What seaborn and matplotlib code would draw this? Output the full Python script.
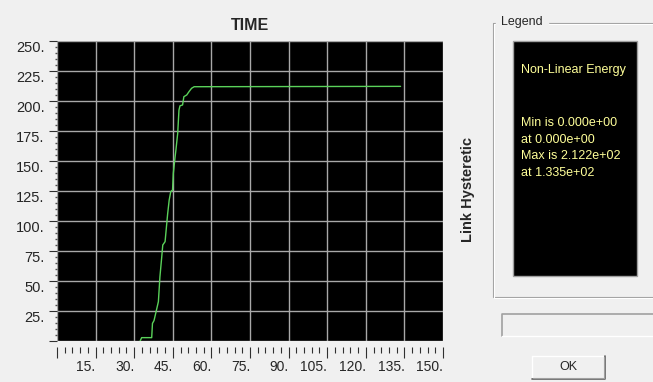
import numpy as np
import pandas as pd
import matplotlib
matplotlib.use("Agg")
import matplotlib.pyplot as plt
from matplotlib.patches import Rectangle
from matplotlib.ticker import MultipleLocator, FuncFormatter
import seaborn as sns

# non-linear energy history of the link
time = [0.0, 32.3, 32.9, 36.8, 37.1, 37.7, 38.5, 39.4, 40.0, 40.7, 41.1, 42.0,
        42.6, 43.0, 43.6, 44.2, 44.9, 45.2, 45.9, 46.2, 46.9, 47.4, 47.8, 48.8,
        49.3, 50.4, 51.3, 52.3, 53.3, 133.5]
energy = [0.0, 0.0, 2.8, 2.8, 14.7, 17.0, 24.4, 32.8, 53.6, 70.0, 80.0, 82.8,
          96.7, 106.0, 117.5, 124.4, 125.8, 139.7, 153.6, 159.0, 173.0, 192.5,
          196.0, 196.7, 203.6, 205.0, 207.8, 210.6, 211.9, 212.2]

title = "TIME"
y_title = "Link Hysteretic"
series_name = "Non-Linear Energy"

BG = "#f0f0f0"
LINE = "#5ad25a"
TXT = "#ffff99"

df = pd.DataFrame({"time": time, "energy": energy})
e = df["energy"].to_numpy()
t = df["time"].to_numpy()
i_min, i_max = int(np.argmin(e)), int(np.argmax(e))
# the zero part lies on the bottom edge and is not visible
start = int(np.flatnonzero(e > 0)[0]) - 1
shown = df.iloc[start:]

sns.set_style("dark", {"axes.facecolor": "black", "figure.facecolor": BG})
plt.rcParams["font.family"] = ["Liberation Sans", "DejaVu Sans"]

W, H = 653, 382
fig = plt.figure(figsize=(W / 100, H / 100), dpi=100)
fig.patch.set_facecolor(BG)

ax = fig.add_axes([57 / W, 1 - 341 / H, (443 - 57) / W, (341 - 41) / H])
ax.set_facecolor("black")
sns.lineplot(data=shown, x="time", y="energy", ax=ax, color=LINE,
             linewidth=1.0, estimator=None, sort=False, zorder=3)
ax.set_xlim(0, 150)
ax.set_ylim(0, 250)
ax.set_xlabel("")
ax.set_ylabel("")
ax.set_title(title, fontsize=11.5, fontweight="bold", pad=8)

ax.xaxis.set_major_locator(MultipleLocator(15))
ax.xaxis.set_minor_locator(MultipleLocator(3))
ax.yaxis.set_major_locator(MultipleLocator(25))
ax.yaxis.set_minor_locator(MultipleLocator(5))
fmt = FuncFormatter(lambda v, p: "" if v == 0 else f"{v:.0f}.")
ax.xaxis.set_major_formatter(fmt)
ax.yaxis.set_major_formatter(fmt)

ax.grid(True, which="major", color="#a8a8a8", linewidth=1.0)
for s in ax.spines.values():
    s.set_visible(False)
ax.spines["bottom"].set_position(("outward", 4.5))

ax.tick_params(axis="x", which="major", direction="out", length=8, width=0.8,
               color="#303030", pad=1, labelsize=10, bottom=True)
ax.tick_params(axis="x", which="minor", direction="out", length=4.5, width=0.8,
               color="#303030", bottom=True)
ax.tick_params(axis="y", which="major", direction="out", length=6, width=0.8,
               color="#303030", pad=3, labelsize=10.5, left=True)
ax.tick_params(axis="y", which="minor", direction="out", length=1.8, width=1.0,
               color="#505050", left=True)
for lab in ax.get_xticklabels():
    lab.set_horizontalalignment("right")
for lab in ax.get_yticklabels():
    lab.set_verticalalignment("top")
# the time ruler has no mark at zero
ax.xaxis.get_major_ticks()[0].tick1line.set_visible(False)

# dialog decorations in pixel coordinates
ui = fig.add_axes([0, 0, 1, 1], zorder=-1)
ui.set_xlim(0, W)
ui.set_ylim(H, 0)
ui.axis("off")

ui.text(468, 190, y_title, rotation=90, ha="center", va="center",
        fontsize=10.5, fontweight="bold")

# group box
ui.add_patch(Rectangle((493, 22.5), 170, 274, fill=False, edgecolor="#a0a0a0", lw=0.8))
ui.add_patch(Rectangle((494, 23.5), 170, 274, fill=False, edgecolor="white", lw=0.8))
ui.text(501, 22, "Legend", ha="left", va="center", fontsize=9,
        backgroundcolor=BG)

# legend panel
ui.add_patch(Rectangle((513, 41), 124, 235, facecolor="black", edgecolor="#a0a0a0", lw=1.0))
ui.text(521, 70, series_name, color=TXT, ha="left", va="center", fontsize=9)
lines = [f"Min is {e[i_min]:.3e}", f"at {t[i_min]:.3e}",
         f"Max is {e[i_max]:.3e}", f"at {t[i_max]:.3e}"]
for k, s in enumerate(lines):
    ui.text(521, 123 + k * 16.7, s, color=TXT, ha="left", va="center", fontsize=9)

# sunken status box
ui.plot([502, 502, 660], [336, 314, 314], color="#a0a0a0", lw=1.2)
ui.plot([502, 660], [336, 336], color="white", lw=1.0)

# OK button
ui.add_patch(Rectangle((532, 356), 73, 23, facecolor=BG, edgecolor="none"))
ui.plot([532, 532, 605], [379, 356, 356], color="white", lw=1.0)
ui.plot([532, 605, 605], [379, 379, 356], color="#606060", lw=1.2)
ui.plot([533, 604, 604], [378, 378, 357], color="#a0a0a0", lw=0.8)
ui.text(568.5, 367.5, "OK", ha="center", va="center", fontsize=9)

fig.savefig("out.png", dpi=100, facecolor=BG)
plt.close(fig)
